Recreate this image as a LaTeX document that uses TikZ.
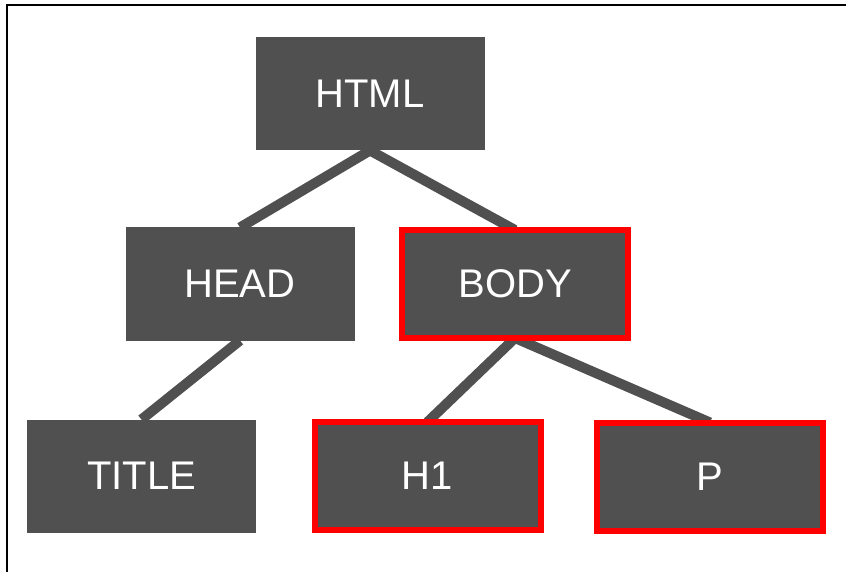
\documentclass[tikz,border=0pt]{standalone}
\usepackage{fontspec}
\setmainfont{Liberation Sans}
\usetikzlibrary{backgrounds}
\definecolor{boxgray}{HTML}{505050}
\definecolor{hired}{HTML}{FF0000}
\begin{document}
\begin{tikzpicture}[x=1pt,y=-1pt,
  box/.style={fill=boxgray, text=white, inner sep=0pt, outer sep=0pt,
    minimum width=229pt, minimum height=113pt,
    font=\fontsize{40}{48}\selectfont},
  redbox/.style={box, draw=hired, line width=6pt,
    minimum width=226pt, minimum height=108pt},
  link/.style={draw=boxgray, line width=10pt}]
\useasboundingbox (0,0) rectangle (846,572);
\node[box] (html) at (370,94) {HTML};
\node[box] (head) at (240,284) {HEAD};
\node[redbox] (body) at (515,284) {BODY};
\node[box] (title) at (141.5,476) {TITLE};
\node[redbox] (h1) at (427.5,476) {H1};
\node[redbox] (p) at (710,476.5) {P};
\begin{scope}[on background layer]
\fill[white] (0,0) rectangle (846,572);
\draw[line width=2pt] (7,572) -- (7,5) -- (846,5);
\draw[link] (html.south) -- (head.north);
\draw[link] (html.south) -- (body.north);
\draw[link] (head.south) -- (title.north);
\draw[link] (body.south) -- (h1.north);
\draw[link] (body.south) -- (p.north);
\end{scope}
\end{tikzpicture}
\end{document}
